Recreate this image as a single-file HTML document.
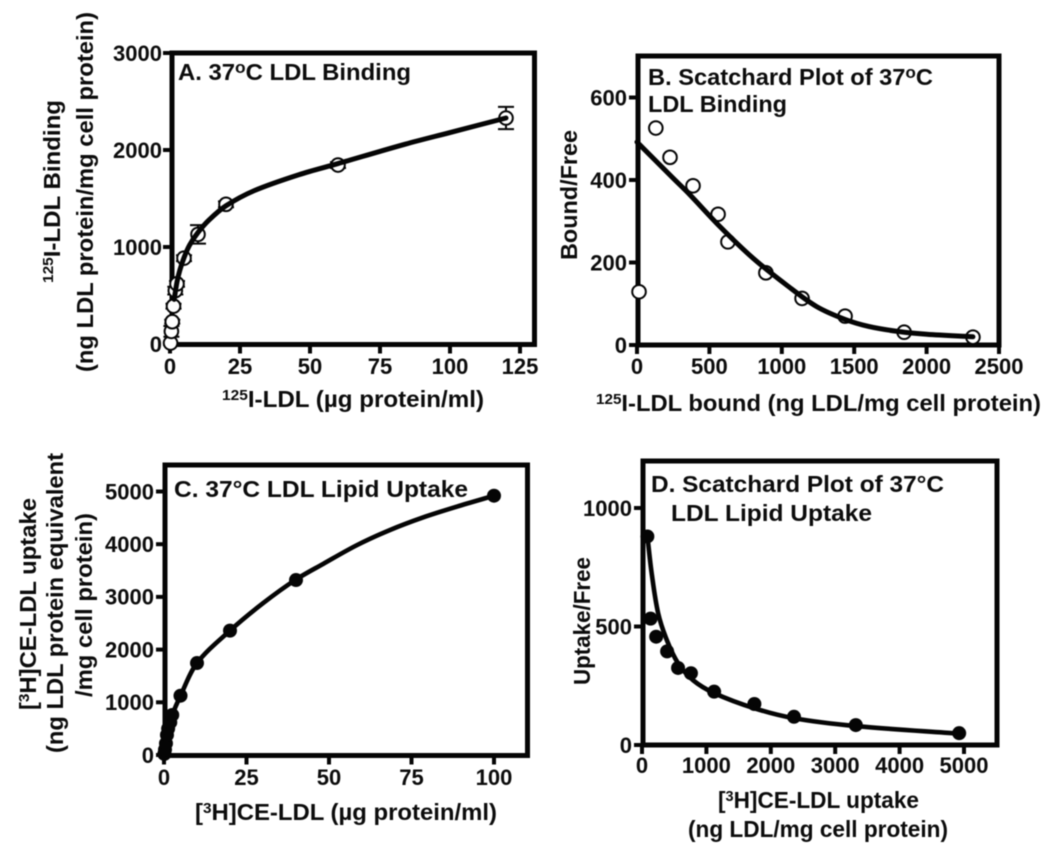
<!DOCTYPE html>
<html lang="en">
<head>
<meta charset="utf-8">
<title>LDL binding and lipid uptake</title>
<style>
html,body{margin:0;padding:0;background:#fff;width:1050px;height:851px;overflow:hidden}
svg{display:block;filter:blur(0.4px)}
text{font-family:"Liberation Sans",sans-serif;font-weight:700;fill:#0c0c0c;font-size:23.4px}
text.tick{font-size:22px}
.sup{font-size:15px}
.deg{font-size:17px}
</style>
</head>
<body>
<svg id="figure" width="1050" height="851" viewBox="0 0 1050 851" xmlns="http://www.w3.org/2000/svg">
  <rect width="1050" height="851" fill="#fff"/>
  <g id="panel-a"></g>
  <g id="panel-b"></g>
  <g id="panel-c"></g>
  <g id="panel-d"></g>

  <text x="178" y="80" textLength="233" lengthAdjust="spacingAndGlyphs">A. 37<tspan class="deg" dy="-7">o</tspan><tspan dy="7">C LDL Binding</tspan></text>
  <text x="648" y="85" textLength="285" lengthAdjust="spacingAndGlyphs">B. Scatchard Plot of 37<tspan class="deg" dy="-7">o</tspan><tspan dy="7">C</tspan></text>
  <text x="648" y="112" textLength="139" lengthAdjust="spacingAndGlyphs">LDL Binding</text>
  <text x="174" y="497" textLength="294" lengthAdjust="spacingAndGlyphs">C. 37°C LDL Lipid Uptake</text>
  <text x="651" y="492" textLength="293" lengthAdjust="spacingAndGlyphs">D. Scatchard Plot of 37°C</text>
  <text x="671" y="521" textLength="201" lengthAdjust="spacingAndGlyphs">LDL Lipid Uptake</text>

  <text x="222" y="407" textLength="262" lengthAdjust="spacingAndGlyphs"><tspan class="sup" dy="-7">125</tspan><tspan dy="7">I-LDL (µg protein/ml)</tspan></text>
  <text x="596" y="411" textLength="445" lengthAdjust="spacingAndGlyphs"><tspan class="sup" dy="-7">125</tspan><tspan dy="7">I-LDL bound (ng LDL/mg cell protein)</tspan></text>
  <text x="195" y="820" textLength="302" lengthAdjust="spacingAndGlyphs">[<tspan class="sup" dy="-7">3</tspan><tspan dy="7">H]CE-LDL (µg protein/ml)</tspan></text>
  <text x="718" y="808" textLength="201" lengthAdjust="spacingAndGlyphs">[<tspan class="sup" dy="-7">3</tspan><tspan dy="7">H]CE-LDL uptake</tspan></text>
  <text x="688" y="837" textLength="260" lengthAdjust="spacingAndGlyphs">(ng LDL/mg cell protein)</text>

  <text transform="translate(60,283) rotate(-90)" textLength="183" lengthAdjust="spacingAndGlyphs"><tspan class="sup" dy="-7">125</tspan><tspan dy="7">I-LDL Binding</tspan></text>
  <text transform="translate(93,372) rotate(-90)" textLength="360" lengthAdjust="spacingAndGlyphs">(ng LDL protein/mg cell protein)</text>
  <text transform="translate(577,260) rotate(-90)" textLength="130" lengthAdjust="spacingAndGlyphs">Bound/Free</text>
  <text transform="translate(36,710) rotate(-90)" textLength="212" lengthAdjust="spacingAndGlyphs">[<tspan class="sup" dy="-7">3</tspan><tspan dy="7">H]CE-LDL uptake</tspan></text>
  <text transform="translate(63,753) rotate(-90)" textLength="300" lengthAdjust="spacingAndGlyphs">(ng LDL protein equivalent</text>
  <text transform="translate(92,697) rotate(-90)" textLength="184" lengthAdjust="spacingAndGlyphs">/mg cell protein)</text>
  <text transform="translate(590,685) rotate(-90)" textLength="128" lengthAdjust="spacingAndGlyphs">Uptake/Free</text>
</svg>
<script>
// Panel A: 125I-LDL binding
var aXTicks = [0, 25, 50, 75, 100, 125];
var aYTicks = [0, 1000, 2000, 3000];
var aPointX = [0.2, 0.5, 0.8, 1.25, 1.9, 2.5, 5, 10, 20, 60, 120];
var aPointY = [10, 130, 230, 390, 550, 620, 885, 1130, 1440, 1845, 2330];
var aError = [0, 55, 20, 25, 40, 30, 30, 95, 30, 30, 115];
var aCurveX = [1.5, 2.5, 3.5, 5, 7, 10, 14, 20, 30, 46, 60, 84, 100, 120];
var aCurveY = [460, 640, 760, 890, 1020, 1150, 1280, 1425, 1580, 1745, 1860, 2060, 2180, 2330];

// Panel B: Scatchard plot of binding
var bXTicks = [0, 500, 1000, 1500, 2000, 2500];
var bYTicks = [0, 200, 400, 600];
var bPointX = [14, 130, 228, 387, 560, 628, 890, 1140, 1437, 1845, 2320];
var bPointY = [129, 526, 455, 386, 317, 250, 175, 113, 70, 31, 19];
var bCurveX = [0, 251, 366, 573, 803, 1034, 1241, 1437, 1600, 1800, 2000, 2320];
var bCurveY = [492, 404, 364, 287, 210, 145, 93, 62, 45, 33, 26, 20];

// Panel C: lipid uptake
var cXTicks = [0, 25, 50, 75, 100];
var cYTicks = [0, 1000, 2000, 3000, 4000, 5000];
var cPointX = [0.1, 0.3, 0.6, 0.9, 1.25, 1.9, 2.5, 5, 10, 20, 40, 100];
var cPointY = [20, 100, 220, 380, 500, 620, 760, 1125, 1745, 2360, 3320, 4920];
var cCurveX = [0, 0.6, 1.25, 2.5, 5, 10, 20, 30, 40, 48.2, 58.4, 68.5, 78.6, 88.7, 100];
var cCurveY = [0, 220, 480, 760, 1125, 1745, 2360, 2880, 3330, 3625, 3980, 4270, 4510, 4712, 4920];

// Panel D: Scatchard plot of uptake
var dXTicks = [0, 1000, 2000, 3000, 4000, 5000];
var dYTicks = [0, 500, 1000];
var dPointX = [83, 133, 220, 390, 560, 760, 1120, 1745, 2360, 3320, 4925];
var dPointY = [880, 533, 457, 395, 325, 303, 225, 173, 119, 84, 50];
var dCurveX = [88, 150, 250, 385, 560, 795, 1120, 1745, 2360, 3320, 4925];
var dCurveY = [870, 725, 557, 443, 345, 273, 219, 155, 113, 80, 48];

var SVGNS = 'http://www.w3.org/2000/svg';

function make(tag, parent) {
  var el = document.createElementNS(SVGNS, tag);
  parent.appendChild(el);
  return el;
}

function linear(d0, d1, r0, r1) {
  return function (v) { return r0 + (v - d0) * (r1 - r0) / (d1 - d0); };
}

// Chord-length parameterised spline, so uneven spacing does not wobble.
function smoothPath(xs, ys, sx, sy) {
  var p = xs.map(function (x, i) { return [sx(x), sy(ys[i])]; });
  var t = [0];
  for (var k = 1; k < p.length; k++) {
    t.push(t[k - 1] + Math.hypot(p[k][0] - p[k - 1][0], p[k][1] - p[k - 1][1]));
  }
  function tangent(i) {
    var a = Math.max(i - 1, 0), b = Math.min(i + 1, p.length - 1);
    return [(p[b][0] - p[a][0]) / (t[b] - t[a]), (p[b][1] - p[a][1]) / (t[b] - t[a])];
  }
  var d = 'M' + p[0][0].toFixed(2) + ' ' + p[0][1].toFixed(2);
  for (var i = 0; i < p.length - 1; i++) {
    var h = (t[i + 1] - t[i]) / 3, m1 = tangent(i), m2 = tangent(i + 1);
    d += 'C' + [p[i][0] + m1[0] * h, p[i][1] + m1[1] * h,
      p[i + 1][0] - m2[0] * h, p[i + 1][1] - m2[1] * h,
      p[i + 1][0], p[i + 1][1]].map(function (n) { return n.toFixed(2); }).join(' ');
  }
  return d;
}

function drawPanel(cfg) {
  var g = document.getElementById(cfg.id);
  var sx = linear(cfg.xDomain[0], cfg.xDomain[1], cfg.xRange[0], cfg.xRange[1]);
  var sy = linear(cfg.yDomain[0], cfg.yDomain[1], cfg.yRange[0], cfg.yRange[1]);

  var frame = make('rect', g);
  
  
  frame.setAttribute('x', cfg.frame[0]);
  frame.setAttribute('y', cfg.frame[1]);
  frame.setAttribute('width', cfg.frame[2] - cfg.frame[0]);
  frame.setAttribute('height', cfg.frame[3] - cfg.frame[1]);
  frame.setAttribute('fill', 'none');
  frame.setAttribute('stroke', '#050505');
  frame.setAttribute('stroke-width', '5');

  cfg.xTicks.forEach(function (t) {
    var tick = make('line', g);
    
    
    tick.setAttribute('x1', sx(t));
    tick.setAttribute('x2', sx(t));
    tick.setAttribute('y1', cfg.frame[3]);
    tick.setAttribute('y2', cfg.frame[3] + 9);
    tick.setAttribute('stroke', '#050505');
    tick.setAttribute('stroke-width', '4');
    var label = make('text', g);
    label.setAttribute('class', 'tick');
    
    
    label.setAttribute('x', sx(t));
    label.setAttribute('y', cfg.xLabelY);
    label.setAttribute('text-anchor', 'middle');
    label.textContent = String(t);
  });

  cfg.yTicks.forEach(function (t) {
    var tick = make('line', g);
    
    
    tick.setAttribute('x1', cfg.frame[0] - 9);
    tick.setAttribute('x2', cfg.frame[0]);
    tick.setAttribute('y1', sy(t));
    tick.setAttribute('y2', sy(t));
    tick.setAttribute('stroke', '#050505');
    tick.setAttribute('stroke-width', '4');
    var label = make('text', g);
    label.setAttribute('class', 'tick');
    
    
    label.setAttribute('x', cfg.yLabelX);
    label.setAttribute('y', sy(t) + 7.8);
    label.setAttribute('text-anchor', 'end');
    label.textContent = String(t);
  });

  if (cfg.err) {
    cfg.pointX.forEach(function (x, i) {
      if (!cfg.err[i]) return;
      var hi = sy(cfg.pointY[i] + cfg.err[i]);
      var lo = sy(cfg.pointY[i] - cfg.err[i]);
      var bar = make('path', g);
      
      
      bar.setAttribute('d', 'M' + sx(x) + ' ' + hi + 'V' + lo +
        'M' + (sx(x) - 8) + ' ' + hi + 'h16M' + (sx(x) - 8) + ' ' + lo + 'h16');
      bar.setAttribute('fill', 'none');
      bar.setAttribute('stroke', '#050505');
      bar.setAttribute('stroke-width', '2');
    });
  }

  cfg.pointX.forEach(function (x, i) {
    var pt = make('circle', g);
    
    
    pt.setAttribute('cx', sx(x));
    pt.setAttribute('cy', sy(cfg.pointY[i]));
    if (cfg.open) {
      pt.setAttribute('r', '6.8');
      pt.setAttribute('fill', '#fff');
      pt.setAttribute('stroke', '#050505');
      pt.setAttribute('stroke-width', '2');
    } else {
      pt.setAttribute('r', '7');
      pt.setAttribute('fill', '#050505');
    }
  });

  var curve = make('path', g);
  
  
  curve.setAttribute('d', smoothPath(cfg.curveX, cfg.curveY, sx, sy));
  curve.setAttribute('fill', 'none');
  curve.setAttribute('stroke', '#050505');
  curve.setAttribute('stroke-width', cfg.curveWidth);
  curve.setAttribute('stroke-linecap', 'round');
}

drawPanel({
  id: 'panel-a', frame: [172, 53, 534.5, 344.5],
  xDomain: [0, 125], xRange: [170, 520], yDomain: [0, 3000], yRange: [344, 53],
  xTicks: aXTicks, yTicks: aYTicks, xLabelY: 374, yLabelX: 162,
  pointX: aPointX, pointY: aPointY, err: aError, open: true,
  curveX: aCurveX, curveY: aCurveY, curveWidth: 5
});
drawPanel({
  id: 'panel-b', frame: [638, 56, 999, 345],
  xDomain: [0, 2500], xRange: [637, 999], yDomain: [0, 600], yRange: [345, 97.5],
  xTicks: bXTicks, yTicks: bYTicks, xLabelY: 374, yLabelX: 627,
  pointX: bPointX, pointY: bPointY, open: true,
  curveX: bCurveX, curveY: bCurveY, curveWidth: 5
});
drawPanel({
  id: 'panel-c', frame: [165, 465, 527.5, 755.5],
  xDomain: [0, 100], xRange: [164, 494], yDomain: [0, 5000], yRange: [755, 491.5],
  xTicks: cXTicks, yTicks: cYTicks, xLabelY: 785, yLabelX: 154,
  pointX: cPointX, pointY: cPointY, open: false,
  curveX: cCurveX, curveY: cCurveY, curveWidth: 4.6
});
drawPanel({
  id: 'panel-d', frame: [643, 461, 997, 745],
  xDomain: [0, 5000], xRange: [642, 964], yDomain: [0, 1000], yRange: [745, 508],
  xTicks: dXTicks, yTicks: dYTicks, xLabelY: 773, yLabelX: 632,
  pointX: dPointX, pointY: dPointY, open: false,
  curveX: dCurveX, curveY: dCurveY, curveWidth: 4.6
});
</script>
</body>
</html>
